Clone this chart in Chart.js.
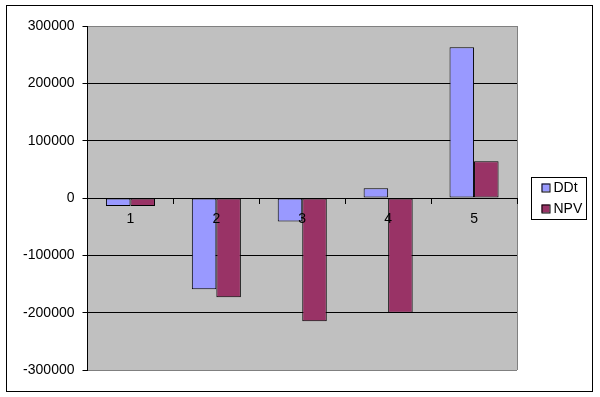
<!DOCTYPE html>
<html>
<head>
<meta charset="utf-8">
<script src="https://cdn.jsdelivr.net/npm/chart.js@4/dist/chart.umd.min.js"></script>
<style>
html,body{margin:0;padding:0;background:#fff;}
#wrap{width:600px;height:397px;position:relative;}
</style>
</head>
<body>
<div id="wrap"><canvas id="c" width="600" height="397"></canvas></div>
<script>
const categories = ['1', '2', '3', '4', '5'];
const seriesNames = ['DDt', 'NPV'];
const ddtValues = [-14000, -159000, -41000, 17000, 263000];
const npvValues = [-14000, -173000, -215000, -200000, 64000];
const yTicks = [-300000, -200000, -100000, 0, 100000, 200000, 300000];
const seriesColors = ['#9999FF', '#993366'];

const FONT = "'Liberation Sans', Arial, sans-serif";

const framePlugin = {
  id: 'frame',
  beforeDraw(chart) {
    const {ctx, chartArea: a} = chart;
    ctx.save();
    ctx.fillStyle = '#ffffff';
    ctx.fillRect(0, 0, chart.width, chart.height);
    ctx.fillStyle = '#C0C0C0';
    ctx.fillRect(a.left, a.top, a.right - a.left, a.bottom - a.top);
    ctx.restore();
  },
  afterDatasetsDraw(chart) {
    const {ctx, chartArea: a} = chart;
    ctx.save();
    ctx.strokeStyle = '#808080';
    ctx.lineWidth = 1;
    ctx.beginPath();
    ctx.moveTo(Math.round(a.right) + 0.5, a.top);
    ctx.lineTo(Math.round(a.right) + 0.5, a.bottom);
    ctx.stroke();
    ctx.restore();
  },
  afterDraw(chart) {
    const {ctx} = chart;
    ctx.save();
    ctx.strokeStyle = '#000';
    ctx.lineWidth = 1;
    ctx.strokeRect(6.5, 5.5, 586, 386);
    const lx = 531.5, ly = 177.5, lw = 55, lh = 42;
    ctx.strokeRect(lx, ly, lw, lh);
    ctx.font = '14px ' + FONT;
    ctx.textBaseline = 'middle';
    ctx.textAlign = 'left';
    chart.data.datasets.forEach((ds, i) => {
      const cy = ly + 10 + i * 21;
      ctx.fillStyle = ds.backgroundColor;
      ctx.fillRect(lx + 10, cy - 4, 8, 8);
      ctx.strokeStyle = '#000';
      ctx.strokeRect(lx + 10 + 0.5, cy - 4 + 0.5, 8, 8);
      ctx.fillStyle = '#000';
      ctx.fillText(ds.label, lx + 22, cy + 0.5);
    });
    ctx.restore();
  }
};

new Chart(document.getElementById('c'), {
  type: 'bar',
  data: {
    labels: categories,
    datasets: [
      {label: seriesNames[0], data: ddtValues, backgroundColor: seriesColors[0], borderColor: '#000', borderWidth: 1, borderSkipped: false},
      {label: seriesNames[1], data: npvValues, backgroundColor: seriesColors[1], borderColor: '#000', borderWidth: 1, borderSkipped: false}
    ]
  },
  options: {
    responsive: false,
    animation: false,
    devicePixelRatio: 1,
    layout: {padding: {left: 0, top: 26, right: 83, bottom: 27}},
    plugins: {legend: {display: false}, tooltip: {enabled: false}},
    datasets: {bar: {barPercentage: 1, categoryPercentage: 0.571}},
    scales: {
      x: {
        position: {y: 0},
        grid: {drawOnChartArea: false, drawTicks: true, tickLength: 5, offset: true, color: '#000', z: 1},
        border: {color: '#000', width: 1, z: 1},
        ticks: {color: '#000', font: {family: FONT, size: 14}, padding: 8, maxRotation: 0, z: 1}
      },
      y: {
        min: yTicks[0],
        max: yTicks[yTicks.length - 1],
        afterBuildTicks: (axis) => { axis.ticks = yTicks.map(v => ({value: v})); },
        afterFit: (axis) => { axis.width = 87.5; },
        grid: {
          color: (ctx) => (ctx.tick && Math.abs(ctx.tick.value) === 300000) ? '#808080' : '#000',
          tickColor: '#000',
          tickLength: 5,
          drawTicks: true
        },
        border: {color: '#000', width: 1},
        ticks: {color: '#000', font: {family: FONT, size: 14}, padding: 8, callback: (v) => String(v)}
      }
    }
  },
  plugins: [framePlugin]
});
</script>
</body>
</html>
